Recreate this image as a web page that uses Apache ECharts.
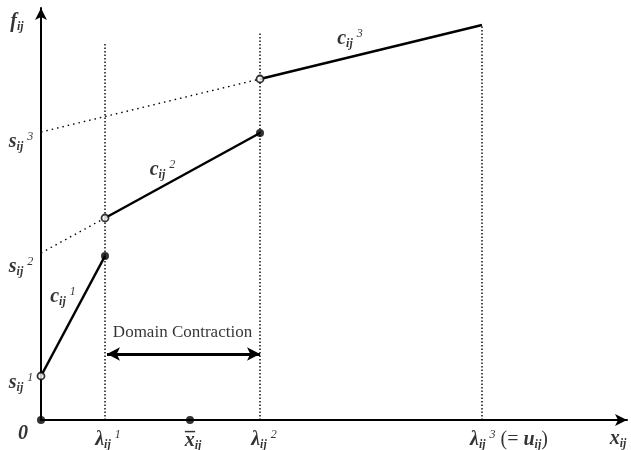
<!DOCTYPE html>
<html><head><meta charset="utf-8">
<script src="https://cdn.jsdelivr.net/npm/echarts@6/dist/echarts.min.js"></script>
<style>html,body{margin:0;padding:0;background:#fff}#c{width:631px;height:450px}</style>
</head><body><div id="c"></div>
<script>
// ---- data (arbitrary units) ----
const lambdas = [3.2, 10.95, 22.05];          // breakpoints λ1, λ2, λ3 (= u)
const xBar = 7.45;                            // x̄
const intercepts = [2.2, 8.35, 14.4];         // s1, s2, s3
const segStartY = [2.2, 10.1, 17.05];         // f at left end of each piece
const segEndY = [8.2, 14.35, 19.75];          // f at right end of each piece
const guideTops = [18.9, 19.35, 19.75];       // top of vertical dotted guides
const contractionY = 3.3;                     // height of the domain-contraction arrow
const xMax = 29.3, yMax = 20.6;

const F = 'Liberation Serif';
const rich = {
  m:  {fontFamily:F, fontStyle:'italic', fontWeight:'bold', fontSize:20, lineHeight:22, color:'#000'},
  r:  {fontFamily:F, fontSize:20, lineHeight:22, color:'#000'},
  sb: {fontFamily:F, fontStyle:'italic', fontWeight:'bold', fontSize:12, lineHeight:11, verticalAlign:'bottom', color:'#000'},
  sp: {fontFamily:F, fontStyle:'italic', fontSize:12, lineHeight:12, verticalAlign:'top', color:'#000', padding:[0,0,0,4]},
  ov: {fontFamily:F, fontWeight:'bold', fontSize:20, lineHeight:10, color:'#000'},
  t:  {fontFamily:F, fontSize:17, lineHeight:18, color:'#000'}
};

const segStartX = [0, lambdas[0], lambdas[1]];
const pieces = lambdas.map((lx, i) => [[segStartX[i], segStartY[i]], [lx, segEndY[i]]]);
const extensions = [1, 2].map(i => [[0, intercepts[i]], [segStartX[i], segStartY[i]]]);
const guides = lambdas.map((lx, i) => [[lx, 0], [lx, guideTops[i]]]);

const filled = [[0, 0], [xBar, 0], [lambdas[0], segEndY[0]], [lambdas[1], segEndY[1]]];
const open = [[0, intercepts[0]], [lambdas[0], segStartY[1]], [lambdas[1], segStartY[2]]];

function lbl(x, y, text, offset, align) {
  return {value:[x, y], label:{show:true, formatter:text, rich:rich, offset:offset, align:align || 'center', verticalAlign:'middle'}};
}
const labels = [
  lbl(0, yMax, '{m|f}{sb|ij}', [-24, 14]),
  lbl(0, intercepts[2], '{m|s}{sb|ij}{sp|3}', [-20, 10]),
  lbl(0, intercepts[1], '{m|s}{sb|ij}{sp|2}', [-20, 14]),
  lbl(0, intercepts[0], '{m|s}{sb|ij}{sp|1}', [-20, 7]),
  lbl(0, 0, '{m|0}', [-18, 14]),
  lbl(lambdas[0], 0, '{m|λ}{sb|ij}{sp|1}', [3, 20]),
  lbl(xBar, 0, '{ov|–}', [0, 12]),
  lbl(xBar, 0, '{m|x}{sb|ij}', [3, 21]),
  lbl(lambdas[1], 0, '{m|λ}{sb|ij}{sp|2}', [4, 20]),
  lbl(lambdas[2], 0, '{m|λ}{sb|ij}{sp|3}{r| (= }{m|u}{sb|ij}{r|)}', [-12, 20], 'left'),
  lbl(xMax, 0, '{m|x}{sb|ij}', [-9, 19]),
  lbl((lambdas[0] + lambdas[1]) / 2, contractionY, '{t|Domain Contraction}', [0, -21]),
  lbl((segStartX[0] + lambdas[0]) / 2, (segStartY[0] + segEndY[0]) / 2, '{m|c}{sb|ij}{sp|1}', [-10, -19]),
  lbl((segStartX[1] + lambdas[1]) / 2, (segStartY[1] + segEndY[1]) / 2, '{m|c}{sb|ij}{sp|2}', [-20, -6]),
  lbl((segStartX[2] + lambdas[2]) / 2, (segStartY[2] + segEndY[2]) / 2, '{m|c}{sb|ij}{sp|3}', [-21, -13])
];

const black = '#000';
const series = [];
pieces.forEach(p => series.push({type:'line', data:p, symbol:'none', lineStyle:{color:black, width:2.5}, z:3, silent:true}));
extensions.forEach(p => series.push({type:'line', data:p, symbol:'none', lineStyle:{color:black, width:1.4, type:[1.5, 4]}, z:2, silent:true}));
guides.forEach(p => series.push({type:'line', data:p, symbol:'none', lineStyle:{color:black, width:1.4, type:[1.5, 2]}, z:2, silent:true}));
series.push({type:'line', data:[], silent:true, markLine:{silent:true, symbol:['arrow','arrow'], symbolSize:[10,13], label:{show:false},
  lineStyle:{color:black, width:3, type:'solid'}, emphasis:{disabled:true},
  data:[[{coord:[lambdas[0] + 0.1, contractionY]}, {coord:[lambdas[1], contractionY]}]]}});
series.push({type:'scatter', data:filled, symbol:'circle', symbolSize:8, itemStyle:{color:black}, z:5, silent:true, clip:false});
series.push({type:'scatter', data:open, symbol:'circle', symbolSize:7, itemStyle:{color:'#fff', borderColor:black, borderWidth:1.8}, z:5, silent:true, clip:false});
series.push({type:'scatter', data:labels, symbolSize:0, z:6, silent:true, clip:false});

const chart = echarts.init(document.getElementById('c'), null, {renderer:'canvas'});
chart.setOption({
  animation:false,
  backgroundColor:'#fff',
  grid:{left:41, right:4, top:8, bottom:30, containLabel:false},
  xAxis:{type:'value', min:0, max:xMax, axisLine:{show:true, onZero:false, symbol:['none','arrow'], symbolSize:[9,12], lineStyle:{color:black, width:2}},
    axisTick:{show:false}, axisLabel:{show:false}, splitLine:{show:false}},
  yAxis:{type:'value', min:0, max:yMax, axisLine:{show:true, onZero:false, symbol:['none','arrow'], symbolSize:[9,12], lineStyle:{color:black, width:2}},
    axisTick:{show:false}, axisLabel:{show:false}, splitLine:{show:false}},
  series:series
});
</script></body></html>
